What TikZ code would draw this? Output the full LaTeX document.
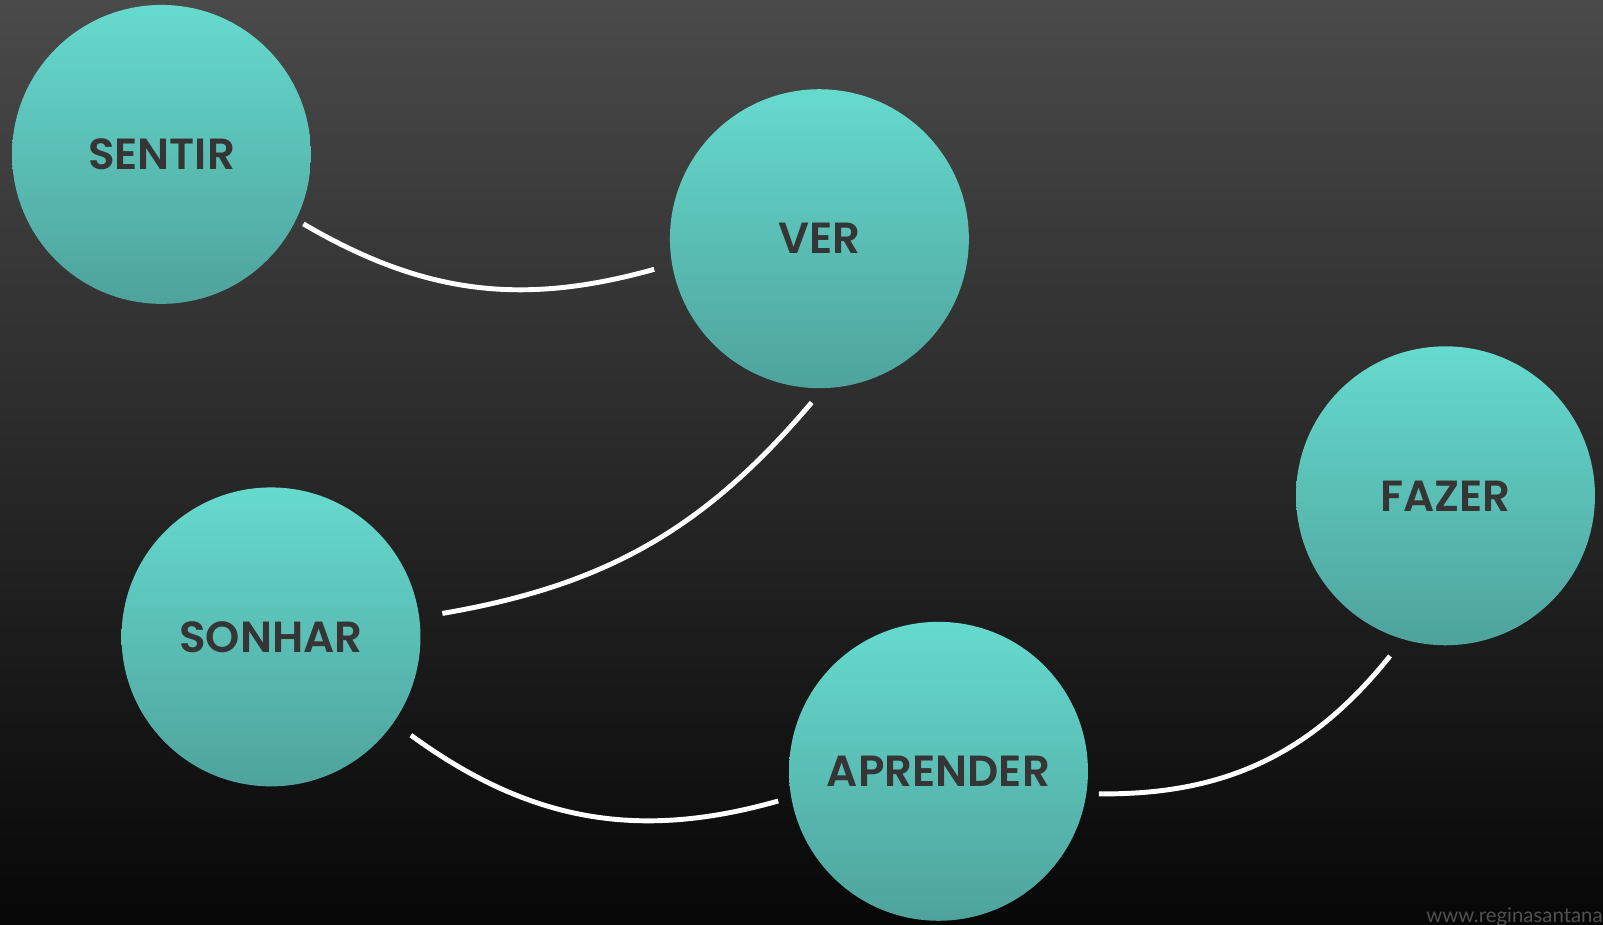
\documentclass[tikz,border=0pt]{standalone}
\usepackage{fontspec}
\setmainfont{Poppins}[BoldFont={Poppins SemiBold}]
\newfontfamily\markfont{Lato}
\usetikzlibrary{calc}
\definecolor{tealtop}{HTML}{66DACE}
\definecolor{tealbot}{HTML}{4EA39C}
\definecolor{bgtop}{HTML}{4A4A4A}
\definecolor{bgbot}{HTML}{070707}
\definecolor{word}{HTML}{353535}
\definecolor{markgray}{HTML}{505050}

\begin{document}
\begin{tikzpicture}[x=0.02cm, y=0.02cm,
  bubble/.style={circle, minimum size=5.98cm, inner sep=0, top color=tealtop, bottom color=tealbot, text=word, font=\bfseries\fontsize{24.8}{28}\selectfont},
  link/.style={white, line width=2.8pt}]
\useasboundingbox (0,0) rectangle (1603,924);
\shade[top color=bgtop, bottom color=bgbot] (0,0) rectangle (1603,924);

\node[bubble] (sentir) at (161.5,769.6) {SENTIR};
\node[bubble] (ver) at (819.4,685.3) {VER};
\node[bubble] (sonhar) at (271,287.1) {SONHAR};
\node[bubble] (fazer) at (1445.5,428.2) {FAZER};
\node[bubble] (aprender) at (938.5,152.7) {APRENDER};

\draw[link] ([shift={(-26.1:158)}]sentir.center) to[bend right=23] ([shift={(-169.5:168)}]ver.center);
\draw[link] ([shift={(-92.7:164)}]ver.center) to[bend left=20] ([shift={(7.8:173)}]sonhar.center);
\draw[link] ([shift={(-35.1:171)}]sonhar.center) to[bend right=26] ([shift={(-169.5:163)}]aprender.center);
\draw[link] ([shift={(-8:162)}]aprender.center) to[bend right=26] ([shift={(-109.1:169.5)}]fazer.center);

\node[anchor=base west, inner sep=0, text=markgray, font=\markfont\fontsize{11.6}{12}\selectfont] (mark) at (1426,2) {www.reginasantana};
\end{tikzpicture}
\end{document}
